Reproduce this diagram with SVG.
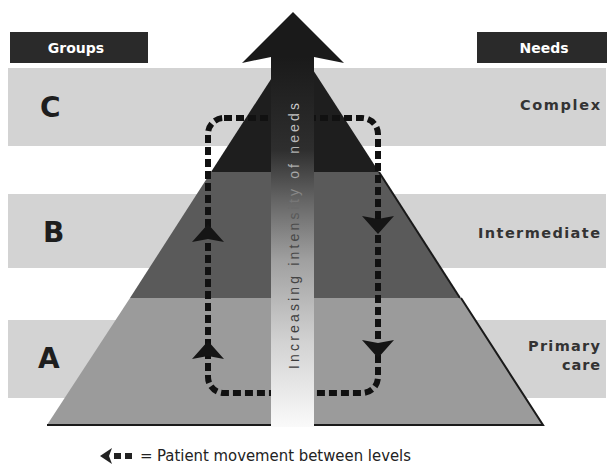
<svg xmlns="http://www.w3.org/2000/svg" width="608" height="467" viewBox="0 0 608 467">
  <style>
    .band { fill: #d3d3d3; }
    .hdr { fill: #2a2a2a; }
    .hdrtxt { font-family: "DejaVu Sans", "Liberation Sans", sans-serif; font-weight: bold; font-size: 14px; fill: #ffffff; text-anchor: middle; }
    .grp { font-family: "DejaVu Sans", "Liberation Sans", sans-serif; font-weight: bold; font-size: 28px; fill: #1e1e1e; }
    .need { font-family: "DejaVu Sans", "Liberation Sans", sans-serif; font-weight: bold; font-size: 14.5px; fill: #333333; text-anchor: end; }
    .loop { fill: none; stroke: #111111; stroke-width: 6; stroke-dasharray: 8 4; }
    .head { fill: #151515; }
    .legend { font-family: "DejaVu Sans", "Liberation Sans", sans-serif; font-size: 15px; fill: #222222; }
  </style>
  <defs>
    <linearGradient id="shaft" x1="0" y1="57" x2="0" y2="427" gradientUnits="userSpaceOnUse">
      <stop offset="0" stop-color="#1a1a1a"/>
      <stop offset="0.25" stop-color="#2e2e2e"/>
      <stop offset="0.39" stop-color="#666666"/>
      <stop offset="0.55" stop-color="#a0a0a0"/>
      <stop offset="0.77" stop-color="#d2d2d2"/>
      <stop offset="1" stop-color="#fafafa"/>
    </linearGradient>
    <linearGradient id="txtgrad" x1="-133" y1="0" x2="133" y2="0" gradientUnits="userSpaceOnUse">
      <stop offset="0" stop-color="#3a3a3a"/>
      <stop offset="0.55" stop-color="#4a4a4a"/>
      <stop offset="0.72" stop-color="#a8a8a8"/>
      <stop offset="1" stop-color="#cccccc"/>
    </linearGradient>
    <polygon id="upHead" points="0,-1 16,17 0,14 -16,17"/>
    <polygon id="downHead" points="0,1 16,-17 0,-14 -16,-17"/>
  </defs>

  <rect x="0" y="0" width="608" height="467" fill="#ffffff"/>

  <g id="band-c"><rect class="band" x="8" y="68" width="598" height="78"/></g>
  <g id="band-b"><rect class="band" x="8" y="194" width="598" height="74"/></g>
  <g id="band-a"><rect class="band" x="8" y="320" width="598" height="78"/></g>

  <g id="header-groups">
    <rect class="hdr" x="10" y="32" width="138" height="31"/>
    <text class="hdrtxt" x="76" y="53">Groups</text>
  </g>
  <g id="header-needs">
    <rect class="hdr" x="477" y="32" width="130" height="31"/>
    <text class="hdrtxt" x="544" y="53">Needs</text>
  </g>

  <g id="tier-a">
    <polygon points="130,298 461,298 543,425 47,425" fill="#9b9b9b"/>
    <polyline points="461,298 543,425 47,425" fill="none" stroke="#1a1a1a" stroke-width="2"/>
  </g>
  <g id="tier-b">
    <polygon points="211,172 379,172 460,298 130,298" fill="#5a5a5a"/>
    <line x1="379" y1="172" x2="460" y2="298" stroke="#1a1a1a" stroke-width="2"/>
  </g>
  <g id="tier-c">
    <polygon points="295,42 379,172 211,172" fill="#1e1e1e"/>
  </g>

  <g id="connectors">
    <rect class="loop" x="208" y="118" width="170" height="275" rx="16" ry="16"/>
    <use href="#upHead" class="head" x="208" y="225"/>
    <use href="#upHead" class="head" x="208" y="342"/>
    <use href="#downHead" class="head" x="378" y="233"/>
    <use href="#downHead" class="head" x="378" y="357"/>
  </g>

  <g id="arrow">
    <rect x="271" y="57" width="43" height="370" fill="url(#shaft)"/>
    <polygon points="293,12 344,63 314,57 271,57 242,63" fill="#1a1a1a"/>
    <text transform="translate(299,236) rotate(-90)" x="0" y="0" text-anchor="middle" font-family="'Liberation Sans Narrow', 'Liberation Sans', sans-serif" font-size="14" fill="url(#txtgrad)" textLength="266" lengthAdjust="spacing">Increasing intensity of needs</text>
  </g>

  <g id="label-c"><text class="grp" x="40" y="117">C</text></g>
  <g id="label-b"><text class="grp" x="43" y="242">B</text></g>
  <g id="label-a"><text class="grp" x="38" y="368">A</text></g>

  <g id="need-complex"><text class="need" x="600" y="110" textLength="80" lengthAdjust="spacing">Complex</text></g>
  <g id="need-intermediate"><text class="need" x="600" y="238" textLength="122" lengthAdjust="spacing">Intermediate</text></g>
  <g id="need-primary">
    <text class="need" x="600" y="351" textLength="72" lengthAdjust="spacing">Primary</text>
    <text class="need" x="600" y="370" textLength="38" lengthAdjust="spacing">care</text>
  </g>

  <g id="legend">
    <polygon points="100,456 112,448 109,456 112,464" fill="#222222"/>
    <rect x="114" y="453" width="7" height="6" fill="#222222"/>
    <rect x="125" y="453" width="7" height="6" fill="#222222"/>
    <text class="legend" x="140" y="461">=</text>
    <text class="legend" x="157" y="461" textLength="254" lengthAdjust="spacingAndGlyphs">Patient movement between levels</text>
  </g>
</svg>
